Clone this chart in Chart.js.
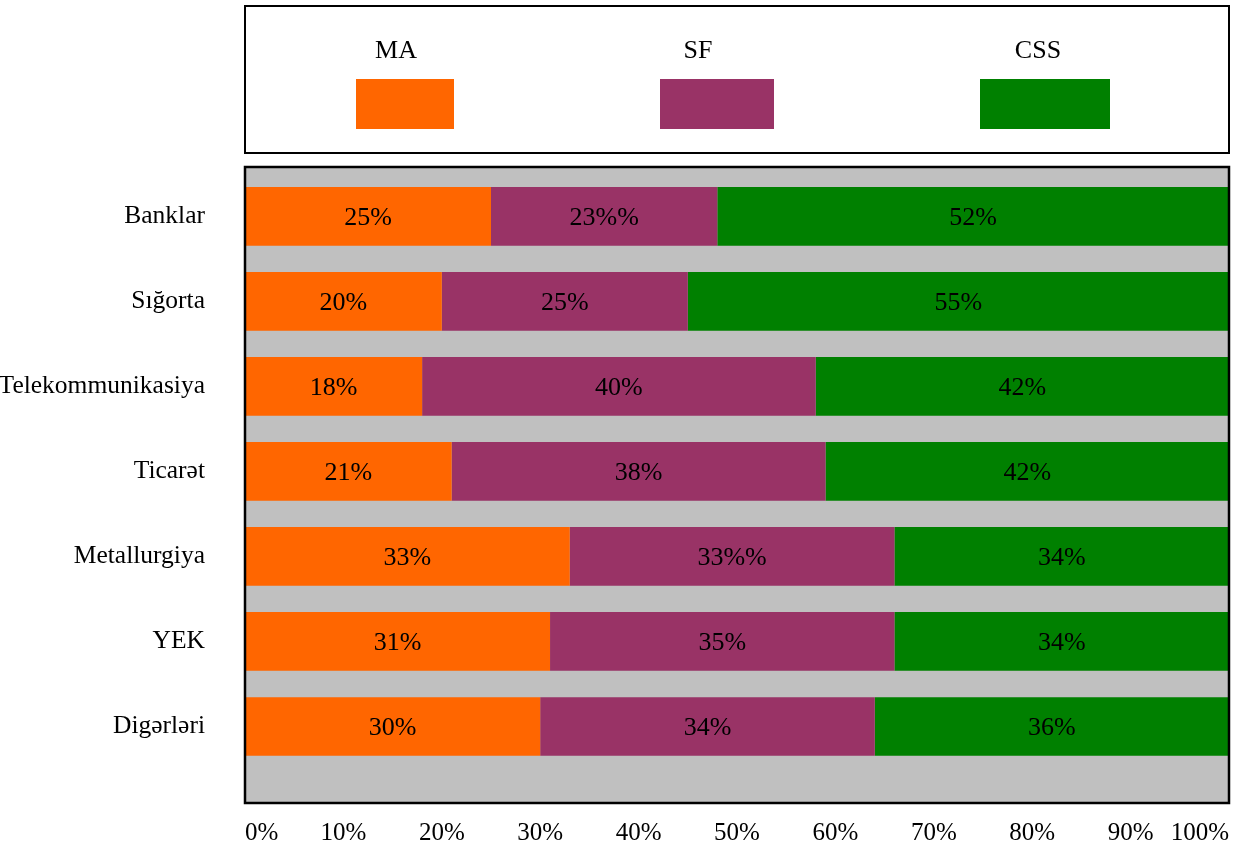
<!DOCTYPE html>
<html>
<head>
<meta charset="utf-8">
<script src="https://cdn.jsdelivr.net/npm/chart.js@4"></script>
<style>
  body { margin: 0; background: #fff; }
  #wrap { width: 1236px; height: 845px; position: relative; }
</style>
</head>
<body>
<div id="wrap"><canvas id="sector-chart"></canvas></div>
<script>
// Sectors and shares (%) for each series
const sectors = ['Banklar', 'Sığorta', 'Telekommunikasiya', 'Ticarət', 'Metallurgiya', 'YEK', 'Digərləri'];
const maValues = [25, 20, 18, 21, 33, 31, 30];
const sfValues = [23, 25, 40, 38, 33, 35, 34];
const cssValues = [52, 55, 42, 42, 34, 34, 36];
// the printed labels carry a doubled percent sign in two places
const sfSuffix = ['%%', '%', '%', '%', '%%', '%', '%'];
const xTicks = [0, 10, 20, 30, 40, 50, 60, 70, 80, 90, 100];

// rows sit on a numeric axis (index of the sector) so the bottom gap can be wider
const rowIndex = sectors.map((_, i) => i);

const serif = '"Liberation Serif", "Times New Roman", serif';

// legend box + swatch placement
const legendBox = { left: 245, top: 6, right: 1229, bottom: 153 };
const legendItems = [
  { textX: 396, boxX: 356, boxW: 98 },
  { textX: 698, boxX: 660, boxW: 114 },
  { textX: 1038, boxX: 980, boxW: 130 }
];

// gray plot background and the frame round it
const plotFrame = {
  id: 'plotFrame',
  beforeDatasetsDraw(chart) {
    const { ctx, chartArea: a } = chart;
    ctx.save();
    ctx.fillStyle = '#c0c0c0';
    ctx.fillRect(a.left, a.top, a.right - a.left, a.bottom - a.top);
    ctx.restore();
  },
  afterDatasetsDraw(chart) {
    const { ctx, chartArea: a } = chart;
    ctx.save();
    ctx.strokeStyle = '#000';
    ctx.lineWidth = 2.5;
    ctx.strokeRect(a.left, a.top, a.right - a.left, a.bottom - a.top);
    ctx.restore();
  }
};

// value text in the middle of each bar piece
const barText = {
  id: 'barText',
  afterDatasetsDraw(chart) {
    const ctx = chart.ctx;
    ctx.save();
    ctx.font = '26px ' + serif;
    ctx.fillStyle = '#000';
    ctx.textAlign = 'center';
    ctx.textBaseline = 'middle';
    chart.data.datasets.forEach((ds, i) => {
      chart.getDatasetMeta(i).data.forEach((bar, j) => {
        const cx = Math.min((bar.x + bar.base) / 2, (chart.chartArea.right + bar.base) / 2);
        ctx.fillText(ds.data[j] + ds.suffix[j], cx, bar.y + 2);
      });
    });
    ctx.restore();
  }
};

// boxed legend above the plot
const boxLegend = {
  id: 'boxLegend',
  afterDraw(chart) {
    const ctx = chart.ctx;
    ctx.save();
    ctx.strokeStyle = '#000';
    ctx.lineWidth = 2;
    ctx.strokeRect(legendBox.left, legendBox.top, legendBox.right - legendBox.left, legendBox.bottom - legendBox.top);
    ctx.font = '26px ' + serif;
    ctx.textAlign = 'center';
    ctx.textBaseline = 'middle';
    chart.data.datasets.forEach((ds, i) => {
      const it = legendItems[i];
      ctx.fillStyle = '#000';
      ctx.fillText(ds.label, it.textX, 51);
      ctx.fillStyle = ds.backgroundColor;
      ctx.fillRect(it.boxX, 79, it.boxW, 50);
    });
    ctx.restore();
  }
};

new Chart('sector-chart', {
  type: 'bar',
  data: {
    labels: rowIndex,
    datasets: [
      { label: 'MA', data: maValues, suffix: maValues.map(() => '%'), backgroundColor: '#ff6600' },
      { label: 'SF', data: sfValues, suffix: sfSuffix, backgroundColor: '#993366' },
      { label: 'CSS', data: cssValues, suffix: cssValues.map(() => '%'), backgroundColor: '#008000' }
    ]
  },
  options: {
    indexAxis: 'y',
    responsive: true,
    maintainAspectRatio: false,
    animation: false,
    layout: { padding: { top: 167, right: 7, bottom: 0, left: 0 } },
    datasets: {
      bar: { barPercentage: 0.69, categoryPercentage: 1, borderWidth: 0, clip: 0 }
    },
    plugins: {
      legend: { display: false },
      tooltip: { enabled: false }
    },
    scales: {
      x: {
        stacked: true,
        min: 0,
        max: 100,
        afterBuildTicks: (scale) => { scale.ticks = xTicks.map(v => ({ value: v })); },
        afterFit: (scale) => {
          scale.height = 42;
          scale.paddingLeft = 0;
          scale.paddingRight = 0;
        },
        grid: { display: false, drawTicks: false },
        border: { display: false },
        ticks: {
          align: 'inner',
          padding: 15,
          color: '#000',
          font: { family: serif, size: 25 },
          callback: (v) => v + '%'
        }
      },
      y: {
        type: 'linear',
        stacked: true,
        reverse: true,
        offset: false,
        min: -0.58,
        max: 6.9,
        afterBuildTicks: (scale) => { scale.ticks = rowIndex.map(v => ({ value: v })); },
        afterFit: (scale) => {
          scale.width = 245;
          scale.paddingTop = 0;
          scale.paddingBottom = 0;
        },
        grid: { display: false, drawTicks: false, offset: false },
        border: { display: false },
        ticks: {
          padding: 40,
          color: '#000',
          font: { family: serif, size: 25.5 },
          callback: (v) => sectors[v]
        }
      }
    }
  },
  plugins: [plotFrame, barText, boxLegend]
});
</script>
</body>
</html>
